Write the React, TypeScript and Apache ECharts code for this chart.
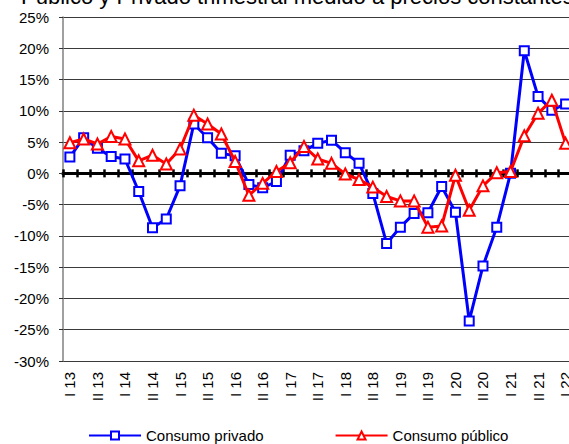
import React, { useEffect, useRef } from "react";
import * as echarts from "echarts";

const quarters = [
  "T1 2013", "T2 2013", "T3 2013", "T4 2013",
  "T1 2014", "T2 2014", "T3 2014", "T4 2014",
  "T1 2015", "T2 2015", "T3 2015", "T4 2015",
  "T1 2016", "T2 2016", "T3 2016", "T4 2016",
  "T1 2017", "T2 2017", "T3 2017", "T4 2017",
  "T1 2018", "T2 2018", "T3 2018", "T4 2018",
  "T1 2019", "T2 2019", "T3 2019", "T4 2019",
  "T1 2020", "T2 2020", "T3 2020", "T4 2020",
  "T1 2021", "T2 2021", "T3 2021", "T4 2021",
  "T1 2022",
];

const tickLabels = [
  "I 13", "II 13", "I 14", "II 14", "I 15", "II 15", "I 16", "II 16",
  "I 17", "II 17", "I 18", "II 18", "I 19", "II 19", "I 20", "II 20",
  "I 21", "II 21", "I 22",
];

const consumoPrivado = [
  2.6, 5.7, 4.0, 2.7, 2.3, -2.9, -8.7, -7.3,
  -2.0, 7.9, 5.7, 3.2, 2.8, -1.8, -2.3, -1.3,
  2.9, 3.6, 4.8, 5.3, 3.3, 1.6, -3.2, -11.2,
  -8.6, -6.4, -6.3, -2.1, -6.2, -23.6, -14.8, -8.6,
  0.0, 19.6, 12.3, 10.1, 11.1,
];

const consumoPublico = [
  4.9, 5.5, 4.7, 5.9, 5.5, 2.0, 2.9, 1.5,
  3.9, 9.3, 7.9, 6.3, 1.9, -3.5, -1.6, 0.3,
  1.7, 4.3, 2.3, 1.6, -0.1, -1.0, -2.2, -3.7,
  -4.4, -4.4, -8.6, -8.4, -0.3, -5.9, -2.0, 0.1,
  0.3, 6.0, 9.6, 11.7, 4.8,
];

const titleText = "Público y Privado trimestral medido a precios constantes";
const FONT = "'Liberation Sans', Arial, sans-serif";

export default function App() {
  const ref = useRef<HTMLDivElement>(null);

  useEffect(() => {
    if (!ref.current) return;
    const chart = echarts.init(ref.current, null, { renderer: "svg" });
    const catWidth = 13.77;
    const zeroAxis = (position: "top" | "bottom", yIdx: number) => ({
      type: "category",
      data: quarters,
      position,
      axisLine: { show: true, onZero: true, onZeroAxisIndex: yIdx, lineStyle: { color: "#000", width: 3 } },
      axisTick: { show: true, interval: 0, length: 4, lineStyle: { color: "#000", width: 2.5 } },
      axisLabel: { show: false },
      splitLine: { show: false },
    });
    chart.setOption({
      animation: false,
      backgroundColor: "#fff",
      textStyle: { fontFamily: FONT },
      grid: { left: 63, top: 17, width: catWidth * quarters.length, height: 344, containLabel: false },
      graphic: [
        {
          type: "text",
          x: 21,
          y: -3.6,
          style: {
            text: titleText,
            fill: "#000",
            font: `22px ${FONT}`,
            verticalAlign: "middle",
          },
        },
      ],
      legend: {
        left: 83,
        top: 423,
        itemWidth: 52,
        itemHeight: 10,
        itemGap: 71,
        textStyle: { color: "#000", fontSize: 15, fontFamily: FONT },
        data: ["Consumo privado", "Consumo público"],
      },
      xAxis: [
        {
          type: "category",
          data: quarters,
          position: "bottom",
          axisLine: { show: false, onZero: false },
          axisTick: { show: false },
          axisLabel: {
            interval: 0,
            rotate: 90,
            margin: 11,
            color: "#000",
            fontSize: 15,
            fontFamily: FONT,
            formatter: (_v: string, idx: number) => (idx % 2 === 0 ? tickLabels[idx / 2] : ""),
          },
          splitLine: { show: false },
        },
        zeroAxis("top", 0),
        zeroAxis("bottom", 1),
      ],
      yAxis: [
        {
          type: "value",
          min: -30,
          max: 25,
          interval: 5,
          position: "left",
          axisLine: { show: true, lineStyle: { color: "#808080", width: 1.5 } },
          axisTick: { show: true, length: 4, lineStyle: { color: "#333" } },
          axisLabel: {
            formatter: "{value}%",
            color: "#000",
            fontSize: 15,
            fontFamily: FONT,
            margin: 14,
          },
          splitLine: { show: true, lineStyle: { color: "#3a3a3a", width: 1 } },
        },
        {
          type: "value",
          min: -30,
          max: 25,
          interval: 5,
          position: "right",
          show: false,
          axisLine: { show: false },
          axisTick: { show: false },
          axisLabel: { show: false },
          splitLine: { show: false },
        },
      ],
      series: [
        {
          name: "Consumo privado",
          type: "line",
          data: consumoPrivado,
          xAxisIndex: 0,
          yAxisIndex: 0,
          color: "#0000ff",
          lineStyle: { width: 3, color: "#0000ff" },
          symbol: "emptyRect",
          symbolSize: 9,
          showAllSymbol: true,
          itemStyle: { color: "#0000ff", borderWidth: 2 },
          z: 3,
        },
        {
          name: "Consumo público",
          type: "line",
          data: consumoPublico,
          xAxisIndex: 0,
          yAxisIndex: 0,
          color: "#ff0000",
          lineStyle: { width: 3, color: "#ff0000" },
          symbol: "emptyTriangle",
          symbolSize: 11,
          showAllSymbol: true,
          itemStyle: { color: "#ff0000", borderWidth: 2 },
          z: 4,
        },
      ],
    });
    return () => chart.dispose();
  }, []);

  return (
    <div
      style={{
        position: "fixed",
        left: 0,
        top: 0,
        width: 569,
        height: 444,
        overflow: "hidden",
        background: "#fff",
      }}
    >
      <div ref={ref} style={{ width: 600, height: 444 }} />
    </div>
  );
}
